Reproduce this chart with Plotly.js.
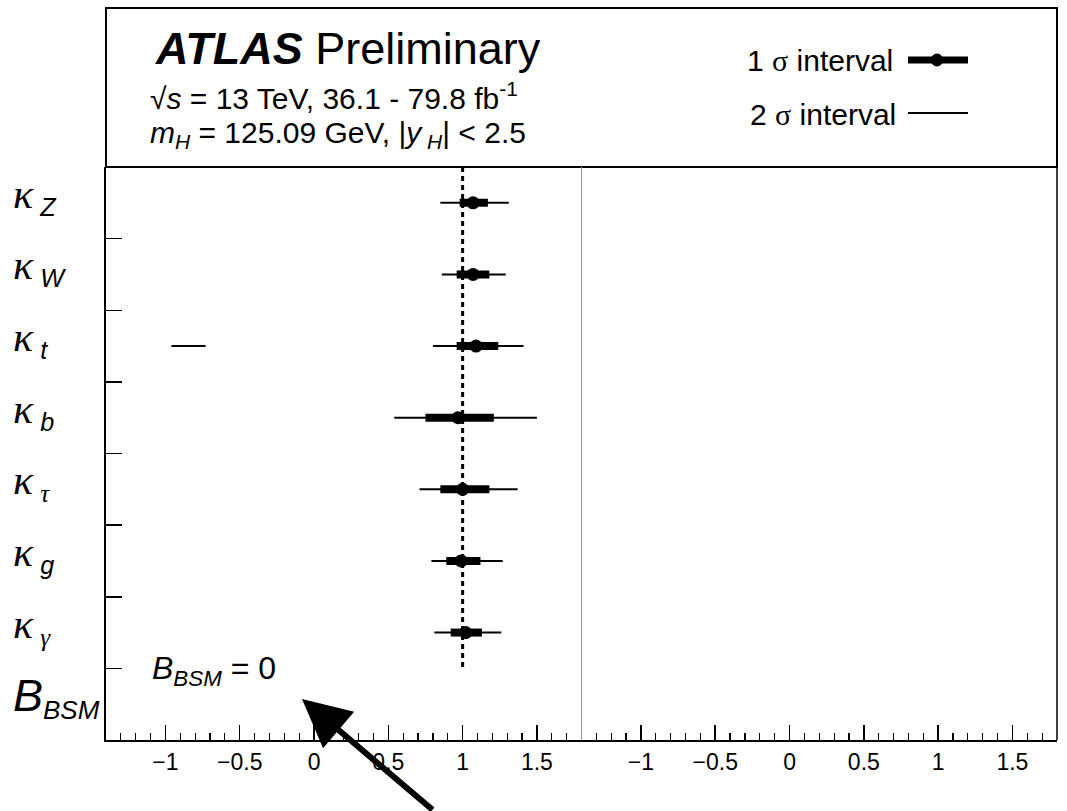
<!DOCTYPE html>
<html><head><meta charset="utf-8">
<script src="https://cdn.plot.ly/plotly-3.0.1.min.js"></script>
<style>html,body{margin:0;padding:0;background:#fff}</style>
</head><body><div id="chart" style="width:1067px;height:811px"></div>
<script>
// ---- data ----
const params = ['kZ','kW','kt','kb','ktau','kg','kgamma','BBSM'];
const KAPPA = '<span style="font-family:Liberation Serif;font-size:42px"><i>κ</i></span>';
const paramLabels = [
  KAPPA + '<sub> <i>Z</i></sub>',
  KAPPA + '<sub> <i>W</i></sub>',
  KAPPA + '<sub> <i>t</i></sub>',
  KAPPA + '<sub> <i>b</i></sub>',
  KAPPA + '<sub> <span style="font-family:Liberation Serif"><i>τ</i></span></sub>',
  KAPPA + '<sub> <i>g</i></sub>',
  KAPPA + '<sub> <span style="font-family:Liberation Serif"><i>γ</i></span></sub>',
  '<span style="font-size:45px"><i>B</i></span><sub><span style="font-size:26px"><i>BSM</i></span></sub>'
];
const fitParams = ['kZ','kW','kt','kb','ktau','kg','kgamma'];
const bestFit  = [1.07, 1.07, 1.09, 0.97, 1.00, 0.99, 1.02];
const sigma1Lo = [0.98, 0.96, 0.96, 0.75, 0.85, 0.89, 0.92];
const sigma1Hi = [1.17, 1.18, 1.24, 1.21, 1.18, 1.12, 1.13];
const sigma2Lo = [0.85, 0.86, 0.80, 0.54, 0.71, 0.79, 0.81];
const sigma2Hi = [1.31, 1.29, 1.41, 1.50, 1.37, 1.27, 1.26];
// additional disconnected 2 sigma interval
const extra2Params = ['kt'];
const extra2Lo = [-0.96];
const extra2Hi = [-0.73];
const smValue = 1;
const xRange = [-1.4, 1.8];
const xTickVals = [-1, -0.5, 0, 0.5, 1, 1.5];

// ---- build traces ----
function segments(cats, lo, hi) {
  const x = [], y = [];
  cats.forEach((c, i) => { x.push(lo[i], hi[i], null); y.push(c, c, null); });
  return {x, y};
}
const s2 = segments(fitParams.concat(extra2Params), sigma2Lo.concat(extra2Lo), sigma2Hi.concat(extra2Hi));
const s1 = segments(fitParams, sigma1Lo, sigma1Hi);

const traces = [
  {type:'scatter', mode:'lines', x:s2.x, y:s2.y, xaxis:'x', yaxis:'y',
   line:{color:'#000', width:2}, connectgaps:false, hoverinfo:'skip', showlegend:false},
  {type:'scatter', mode:'lines', x:s1.x, y:s1.y, xaxis:'x', yaxis:'y',
   line:{color:'#000', width:8}, connectgaps:false, hoverinfo:'skip', showlegend:false},
  {type:'scatter', mode:'markers', x:bestFit, y:fitParams, xaxis:'x', yaxis:'y',
   marker:{color:'#000', size:13, symbol:'circle'}, showlegend:false},
  // empty trace to activate right panel
  {type:'scatter', mode:'markers', x:[], y:[], xaxis:'x2', yaxis:'y', showlegend:false}
];

// ---- geometry helpers (page px -> paper) ----
const W = 1067, H = 811, L = 106, R = 10, T = 167, B = 71;
const PW = W - L - R, PH = H - T - B;
const px = v => (v - L) / PW;
const py = v => (H - B - v) / PH;

const font = 'Liberation Sans, Arial, sans-serif';
const axisX = {
  range: xRange, tickvals: xTickVals, ticks:'inside', ticklen:15, tickwidth:1.5, tickcolor:'#000',
  minor:{dtick:0.1, tick0:0, ticks:'inside', ticklen:7, tickwidth:1.2, tickcolor:'#000', showgrid:false},
  showline:true, linecolor:'#000', linewidth:2, showgrid:false, zeroline:false,
  tickfont:{family:font, size:23, color:'#000'}, fixedrange:true
};

const annotations = [];
params.forEach((p, i) => annotations.push({
  xref:'paper', yref:'y', x:px(11), y:p, xanchor:'left', yanchor:'middle', yshift:7,
  text:paramLabels[i], showarrow:false, font:{family:font, size:36, color:'#000'}
}));
annotations.push(
  {xref:'paper', yref:'paper', x:px(153), y:py(49), xanchor:'left', yanchor:'middle', showarrow:false,
   text:'<b><i>ATLAS</i></b> Preliminary', font:{family:font, size:45, color:'#000'}},
  {xref:'paper', yref:'paper', x:px(148), y:py(96), xanchor:'left', yanchor:'middle', showarrow:false,
   text:'√<i>s</i> = 13 TeV, 36.1 - 79.8 fb<sup>-1</sup>', font:{family:font, size:30, color:'#000'}},
  {xref:'paper', yref:'paper', x:px(148), y:py(134), xanchor:'left', yanchor:'middle', showarrow:false,
   text:'<i>m</i><sub><i>H</i></sub> = 125.09 GeV, |<i>y</i><sub> <i>H</i></sub>| &lt; 2.5', font:{family:font, size:30, color:'#000'}},
  {xref:'paper', yref:'paper', x:px(895), y:py(60), xanchor:'right', yanchor:'middle', showarrow:false,
   text:'1 <span style="font-family:Liberation Serif">σ</span> interval', font:{family:font, size:30, color:'#000'}},
  {xref:'paper', yref:'paper', x:px(898), y:py(114), xanchor:'right', yanchor:'middle', showarrow:false,
   text:'2 <span style="font-family:Liberation Serif">σ</span> interval', font:{family:font, size:30, color:'#000'}},
  {xref:'paper', yref:'paper', x:px(150), y:py(670), xanchor:'left', yanchor:'middle', showarrow:false,
   text:'<i>B</i><sub><i>BSM</i></sub> = 0', font:{family:font, size:32, color:'#000'}},
  // hand-drawn arrow
  {xref:'paper', yref:'paper', x:px(302), y:py(699), text:'', showarrow:true,
   arrowhead:2, arrowsize:1.6, arrowwidth:6, arrowcolor:'#000', ax:132, ay:130}
);

const shapes = [
  // header box
  {type:'rect', xref:'paper', yref:'paper', x0:0, x1:1, y0:1, y1:py(8), line:{color:'#000', width:2}},
  // right frame
  {type:'line', xref:'paper', yref:'paper', x0:1, x1:1, y0:0, y1:1, line:{color:'#000', width:1.5}},
  // panel separator
  {type:'line', xref:'paper', yref:'paper', x0:0.5, x1:0.5, y0:0, y1:1, line:{color:'#999', width:1}},
  // SM reference
  {type:'line', xref:'x', yref:'y', x0:smValue, x1:smValue, y0:-0.5, y1:6.5,
   line:{color:'#000', width:3, dash:'5px,4px'}},
  // legend samples
  {type:'line', xref:'paper', yref:'paper', x0:px(908), x1:px(968), y0:py(60), y1:py(60), line:{color:'#000', width:7}},
  {type:'circle', xref:'paper', yref:'paper', x0:px(931), x1:px(943), y0:py(54), y1:py(66), fillcolor:'#000', line:{color:'#000', width:1}},
  {type:'line', xref:'paper', yref:'paper', x0:px(908), x1:px(968), y0:py(113), y1:py(113), line:{color:'#000', width:2}}
];

const layout = {
  width:W, height:H, margin:{l:L, r:R, t:T, b:B, pad:0},
  paper_bgcolor:'#fff', plot_bgcolor:'#fff', showlegend:false,
  font:{family:font, color:'#000'},
  xaxis: Object.assign({}, axisX, {domain:[0, 0.5], anchor:'y'}),
  xaxis2: Object.assign({}, axisX, {domain:[0.5, 1], anchor:'y'}),
  yaxis: {type:'category', categoryorder:'array', categoryarray:params, range:[7.5, -0.5],
    tickson:'boundaries', ticks:'inside', ticklen:16, tickwidth:1.5, tickcolor:'#000',
    showticklabels:false, showline:true, linecolor:'#000', linewidth:2, showgrid:false, zeroline:false,
    fixedrange:true, anchor:'x'},
  annotations, shapes
};

Plotly.newPlot('chart', traces, layout, {displayModeBar:false, staticPlot:true});
</script>
</body></html>
